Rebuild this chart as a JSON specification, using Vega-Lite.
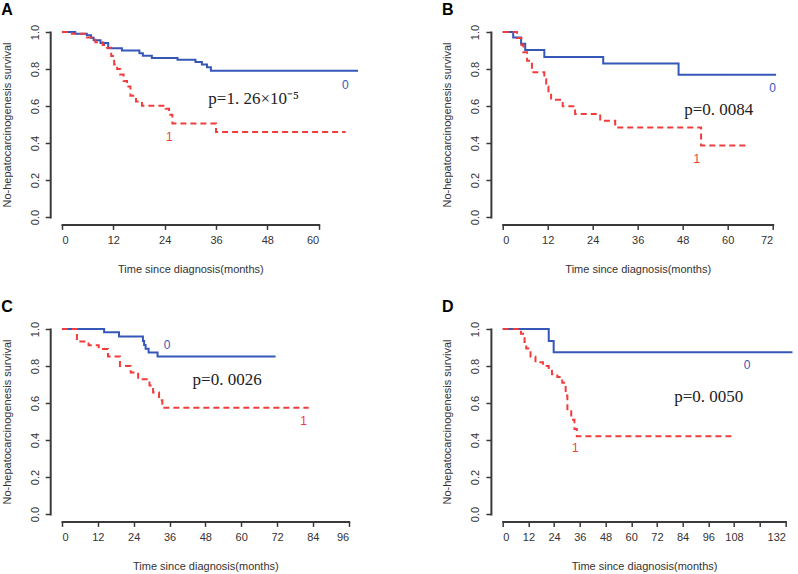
{
"$schema":"https://vega.github.io/schema/vega-lite/v6.json",
"background":"white",
"padding":{"left":1,"top":2,"right":0,"bottom":0},
"bounds":"flush",
"columns":2,
"spacing":{"row":112,"column":153.7},
"datasets":{
"km":[
{"p":"A","g":"0","t":0,"s":1},{"p":"A","g":"0","t":3.1,"s":0.99},{"p":"A","g":"0","t":5.8,"s":0.982},{"p":"A","g":"0","t":6.8,"s":0.969},{"p":"A","g":"0","t":7.4,"s":0.955},{"p":"A","g":"0","t":9.0,"s":0.94},{"p":"A","g":"0","t":10.8,"s":0.912},{"p":"A","g":"0","t":14.0,"s":0.9},{"p":"A","g":"0","t":18.1,"s":0.885},{"p":"A","g":"0","t":18.9,"s":0.872},{"p":"A","g":"0","t":21.0,"s":0.86},{"p":"A","g":"0","t":27.0,"s":0.85},{"p":"A","g":"0","t":31.2,"s":0.838},{"p":"A","g":"0","t":32.7,"s":0.825},{"p":"A","g":"0","t":33.9,"s":0.81},{"p":"A","g":"0","t":34.8,"s":0.79},{"p":"A","g":"0","t":69.2,"s":0.79},
{"p":"A","g":"1","t":0,"s":1},{"p":"A","g":"1","t":2.3,"s":0.99},{"p":"A","g":"1","t":5.8,"s":0.97},{"p":"A","g":"1","t":7.8,"s":0.945},{"p":"A","g":"1","t":9.5,"s":0.93},{"p":"A","g":"1","t":10.5,"s":0.915},{"p":"A","g":"1","t":11.5,"s":0.87},{"p":"A","g":"1","t":12.2,"s":0.825},{"p":"A","g":"1","t":12.9,"s":0.8},{"p":"A","g":"1","t":13.6,"s":0.77},{"p":"A","g":"1","t":14.4,"s":0.735},{"p":"A","g":"1","t":15.2,"s":0.705},{"p":"A","g":"1","t":16.0,"s":0.655},{"p":"A","g":"1","t":17.3,"s":0.625},{"p":"A","g":"1","t":18.7,"s":0.602},{"p":"A","g":"1","t":24.2,"s":0.585},{"p":"A","g":"1","t":25.0,"s":0.553},{"p":"A","g":"1","t":25.8,"s":0.505},{"p":"A","g":"1","t":36.0,"s":0.46},{"p":"A","g":"1","t":66.3,"s":0.46},
{"p":"B","g":"0","t":0,"s":1},{"p":"B","g":"0","t":2.8,"s":0.97},{"p":"B","g":"0","t":4.9,"s":0.937},{"p":"B","g":"0","t":6.0,"s":0.903},{"p":"B","g":"0","t":11.1,"s":0.865},{"p":"B","g":"0","t":26.8,"s":0.83},{"p":"B","g":"0","t":46.9,"s":0.769},{"p":"B","g":"0","t":72.9,"s":0.769},
{"p":"B","g":"1","t":0,"s":1},{"p":"B","g":"1","t":3.8,"s":0.967},{"p":"B","g":"1","t":5.0,"s":0.93},{"p":"B","g":"1","t":5.5,"s":0.89},{"p":"B","g":"1","t":6.5,"s":0.845},{"p":"B","g":"1","t":7.8,"s":0.782},{"p":"B","g":"1","t":11.1,"s":0.745},{"p":"B","g":"1","t":11.6,"s":0.705},{"p":"B","g":"1","t":12.2,"s":0.67},{"p":"B","g":"1","t":12.9,"s":0.634},{"p":"B","g":"1","t":16.0,"s":0.598},{"p":"B","g":"1","t":19.3,"s":0.557},{"p":"B","g":"1","t":26.0,"s":0.52},{"p":"B","g":"1","t":30.0,"s":0.484},{"p":"B","g":"1","t":52.9,"s":0.387},{"p":"B","g":"1","t":65.3,"s":0.387},
{"p":"C","g":"0","t":0,"s":1},{"p":"C","g":"0","t":14.1,"s":0.982},{"p":"C","g":"0","t":19.1,"s":0.96},{"p":"C","g":"0","t":27.1,"s":0.935},{"p":"C","g":"0","t":27.5,"s":0.913},{"p":"C","g":"0","t":28.0,"s":0.893},{"p":"C","g":"0","t":29.0,"s":0.873},{"p":"C","g":"0","t":32.0,"s":0.852},{"p":"C","g":"0","t":71.5,"s":0.852},
{"p":"C","g":"1","t":0,"s":1},{"p":"C","g":"1","t":5.0,"s":0.932},{"p":"C","g":"1","t":8.9,"s":0.912},{"p":"C","g":"1","t":12.3,"s":0.892},{"p":"C","g":"1","t":15.4,"s":0.852},{"p":"C","g":"1","t":19.4,"s":0.8},{"p":"C","g":"1","t":23.0,"s":0.765},{"p":"C","g":"1","t":25.5,"s":0.728},{"p":"C","g":"1","t":29.3,"s":0.695},{"p":"C","g":"1","t":30.5,"s":0.657},{"p":"C","g":"1","t":32.5,"s":0.615},{"p":"C","g":"1","t":33.6,"s":0.575},{"p":"C","g":"1","t":82.6,"s":0.575},
{"p":"D","g":"0","t":0,"s":1},{"p":"D","g":"0","t":21.5,"s":0.935},{"p":"D","g":"0","t":23.8,"s":0.875},{"p":"D","g":"0","t":135.3,"s":0.875},
{"p":"D","g":"1","t":0,"s":1},{"p":"D","g":"1","t":8.5,"s":0.975},{"p":"D","g":"1","t":10.2,"s":0.93},{"p":"D","g":"1","t":11.0,"s":0.895},{"p":"D","g":"1","t":13.0,"s":0.85},{"p":"D","g":"1","t":15.3,"s":0.82},{"p":"D","g":"1","t":18.8,"s":0.8},{"p":"D","g":"1","t":21.5,"s":0.775},{"p":"D","g":"1","t":23.0,"s":0.755},{"p":"D","g":"1","t":25.5,"s":0.74},{"p":"D","g":"1","t":27.8,"s":0.71},{"p":"D","g":"1","t":29.4,"s":0.64},{"p":"D","g":"1","t":30.2,"s":0.555},{"p":"D","g":"1","t":32.0,"s":0.51},{"p":"D","g":"1","t":33.5,"s":0.46},{"p":"D","g":"1","t":34.6,"s":0.42},{"p":"D","g":"1","t":107.9,"s":0.42}
],
"notes":[
{"p":"A","g":"0","t":66.2,"s":0.715,"text":"0"},{"p":"A","g":"1","t":25.1,"s":0.432,"text":"1"},
{"p":"B","g":"0","t":72.0,"s":0.697,"text":"0"},{"p":"B","g":"1","t":51.8,"s":0.313,"text":"1"},
{"p":"C","g":"0","t":35.2,"s":0.913,"text":"0"},{"p":"C","g":"1","t":80.9,"s":0.503,"text":"1"},
{"p":"D","g":"0","t":114.1,"s":0.805,"text":"0"},{"p":"D","g":"1","t":33.9,"s":0.355,"text":"1"}
],
"pvals":[
{"p":"A","t":44.8,"s":0.638,"text":"p=1. 26×10⁻⁵"},
{"p":"B","t":57.6,"s":0.58,"text":"p=0. 0084"},
{"p":"C","t":55.3,"s":0.723,"text":"p=0. 0026"},
{"p":"D","t":96.2,"s":0.633,"text":"p=0. 0050"}
]
},
"concat":[
{"title":{"text":"A"},"width":256.7,"height":185,"layer":[
{"data":{"name":"km"},"transform":[{"filter":"datum.p==='A'"}],"mark":{"type":"line","interpolate":"step-after","strokeWidth":2},
"encoding":{"x":{"field":"t","type":"quantitative","scale":{"domain":[0,60],"nice":false,"zero":false},"axis":{"values":[0,12,24,36,48,60],"title":"Time since diagnosis(months)"}},
"y":{"field":"s","type":"quantitative","scale":{"domain":[0,1],"nice":false,"zero":false},"axis":{"values":[0,0.2,0.4,0.6,0.8,1],"format":".1f","title":"No-hepatocarcinogenesis survival"}},
"color":{"field":"g","type":"nominal","scale":{"domain":["0","1"],"range":["#3558b8","#f23c3c"]},"legend":null},
"strokeDash":{"field":"g","type":"nominal","scale":{"domain":["0","1"],"range":[[1,0],[6,4]]},"legend":null}}},
{"data":{"name":"notes"},"transform":[{"filter":"datum.p==='A'"}],"mark":{"type":"text","fontSize":12,"baseline":"middle"},"encoding":{"x":{"field":"t","type":"quantitative"},"y":{"field":"s","type":"quantitative"},"text":{"field":"text"},"color":{"field":"g","type":"nominal","legend":null}}},
{"data":{"name":"pvals"},"transform":[{"filter":"datum.p==='A'"}],"mark":{"type":"text","font":"Liberation Serif","fontSize":17,"color":"#222","baseline":"middle"},"encoding":{"x":{"field":"t","type":"quantitative"},"y":{"field":"s","type":"quantitative"},"text":{"field":"text"}}}
]},
{"title":{"text":"B"},"width":270,"height":185,"layer":[
{"data":{"name":"km"},"transform":[{"filter":"datum.p==='B'"}],"mark":{"type":"line","interpolate":"step-after","strokeWidth":2},
"encoding":{"x":{"field":"t","type":"quantitative","scale":{"domain":[0,72],"nice":false,"zero":false},"axis":{"values":[0,12,24,36,48,60,72],"title":"Time since diagnosis(months)"}},
"y":{"field":"s","type":"quantitative","scale":{"domain":[0,1],"nice":false,"zero":false},"axis":{"values":[0,0.2,0.4,0.6,0.8,1],"format":".1f","title":"No-hepatocarcinogenesis survival"}},
"color":{"field":"g","type":"nominal","legend":null},
"strokeDash":{"field":"g","type":"nominal","scale":{"domain":["0","1"],"range":[[1,0],[6,4]]},"legend":null}}},
{"data":{"name":"notes"},"transform":[{"filter":"datum.p==='B'"}],"mark":{"type":"text","fontSize":12,"baseline":"middle"},"encoding":{"x":{"field":"t","type":"quantitative"},"y":{"field":"s","type":"quantitative"},"text":{"field":"text"},"color":{"field":"g","type":"nominal","legend":null}}},
{"data":{"name":"pvals"},"transform":[{"filter":"datum.p==='B'"}],"mark":{"type":"text","font":"Liberation Serif","fontSize":17,"color":"#222","baseline":"middle"},"encoding":{"x":{"field":"t","type":"quantitative"},"y":{"field":"s","type":"quantitative"},"text":{"field":"text"}}}
]},
{"title":{"text":"C"},"width":286.7,"height":185,"layer":[
{"data":{"name":"km"},"transform":[{"filter":"datum.p==='C'"}],"mark":{"type":"line","interpolate":"step-after","strokeWidth":2},
"encoding":{"x":{"field":"t","type":"quantitative","scale":{"domain":[0,96],"nice":false,"zero":false},"axis":{"values":[0,12,24,36,48,60,72,84,96],"title":"Time since diagnosis(months)"}},
"y":{"field":"s","type":"quantitative","scale":{"domain":[0,1],"nice":false,"zero":false},"axis":{"values":[0,0.2,0.4,0.6,0.8,1],"format":".1f","title":"No-hepatocarcinogenesis survival"}},
"color":{"field":"g","type":"nominal","legend":null},
"strokeDash":{"field":"g","type":"nominal","scale":{"domain":["0","1"],"range":[[1,0],[6,4]]},"legend":null}}},
{"data":{"name":"notes"},"transform":[{"filter":"datum.p==='C'"}],"mark":{"type":"text","fontSize":12,"baseline":"middle"},"encoding":{"x":{"field":"t","type":"quantitative"},"y":{"field":"s","type":"quantitative"},"text":{"field":"text"},"color":{"field":"g","type":"nominal","legend":null}}},
{"data":{"name":"pvals"},"transform":[{"filter":"datum.p==='C'"}],"mark":{"type":"text","font":"Liberation Serif","fontSize":17,"color":"#222","baseline":"middle"},"encoding":{"x":{"field":"t","type":"quantitative"},"y":{"field":"s","type":"quantitative"},"text":{"field":"text"}}}
]},
{"title":{"text":"D"},"width":282.7,"height":185,"layer":[
{"data":{"name":"km"},"transform":[{"filter":"datum.p==='D'"}],"mark":{"type":"line","interpolate":"step-after","strokeWidth":2},
"encoding":{"x":{"field":"t","type":"quantitative","scale":{"domain":[0,132],"nice":false,"zero":false},"axis":{"values":[0,12,24,36,48,60,72,84,96,108,120,132],"labelExpr":"datum.value==120?'':datum.label","title":"Time since diagnosis(months)"}},
"y":{"field":"s","type":"quantitative","scale":{"domain":[0,1],"nice":false,"zero":false},"axis":{"values":[0,0.2,0.4,0.6,0.8,1],"format":".1f","title":"No-hepatocarcinogenesis survival"}},
"color":{"field":"g","type":"nominal","legend":null},
"strokeDash":{"field":"g","type":"nominal","scale":{"domain":["0","1"],"range":[[1,0],[6,4]]},"legend":null}}},
{"data":{"name":"notes"},"transform":[{"filter":"datum.p==='D'"}],"mark":{"type":"text","fontSize":12,"baseline":"middle"},"encoding":{"x":{"field":"t","type":"quantitative"},"y":{"field":"s","type":"quantitative"},"text":{"field":"text"},"color":{"field":"g","type":"nominal","legend":null}}},
{"data":{"name":"pvals"},"transform":[{"filter":"datum.p==='D'"}],"mark":{"type":"text","font":"Liberation Serif","fontSize":17,"color":"#222","baseline":"middle"},"encoding":{"x":{"field":"t","type":"quantitative"},"y":{"field":"s","type":"quantitative"},"text":{"field":"text"}}}
]}
],
"config":{
"view":{"stroke":null},
"font":"Liberation Sans",
"axis":{"grid":false,"domain":true,"domainColor":"#3a3a3a","domainWidth":2,"domainOpacity":1,"domainCap":"square","tickCount":30,"labelOverlap":false,"tickColor":"#3a3a3a","tickWidth":1.5,"tickSize":5,"labelFont":"Liberation Sans","labelFontSize":11,"labelColor":"#333","titleFont":"Liberation Sans","titleFontSize":11,"titleFontWeight":"normal","titleColor":"#333"},
"axisX":{"offset":7.4,"labelPadding":5,"titlePadding":18},
"axisY":{"offset":11.8,"labelAngle":270,"labelAlign":"center","labelBaseline":"bottom","labelPadding":5,"titlePadding":17},
"title":{"anchor":"start","frame":"bounds","fontSize":16,"fontWeight":"bold","font":"Liberation Sans","color":"#000","offset":6}
}
}
